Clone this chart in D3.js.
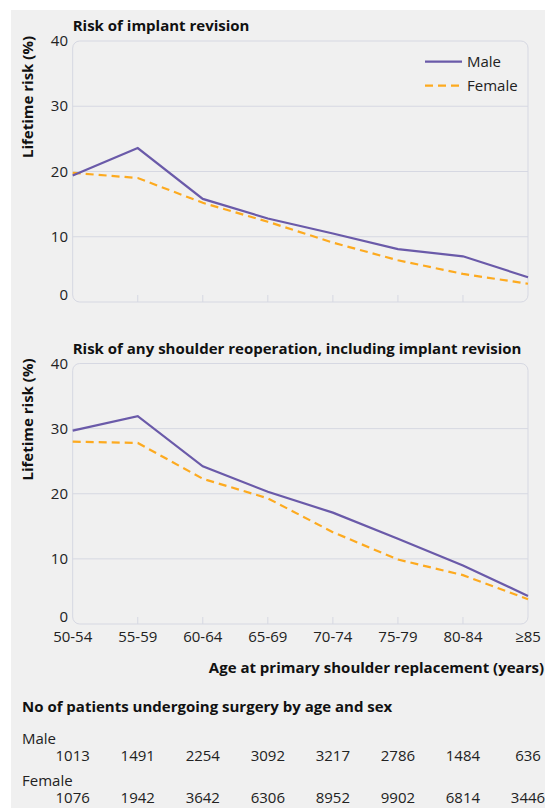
<!DOCTYPE html>
<html>
<head>
<meta charset="utf-8">
<script src="https://cdn.jsdelivr.net/npm/d3@7"></script>
<style>
  body { margin: 0; background: #ffffff; }
  svg { display: block; font-family: "Open Sans", sans-serif; }
  .grid line { stroke: #d6d8e2; stroke-width: 1; }
  .tick-label { font-size: 15px; fill: #222; }
  .bold { font-weight: bold; fill: #111; }
</style>
</head>
<body>
<div id="chart"></div>
<script>
var ageGroups = ["50-54", "55-59", "60-64", "65-69", "70-74", "75-79", "80-84", "\u226585"];

// Lifetime risk of implant revision (%)
var revisionMale   = [19.4, 23.6, 15.8, 12.8, 10.5, 8.1, 7.0, 3.8];
var revisionFemale = [19.8, 19.0, 15.2, 12.3, 9.1, 6.4, 4.3, 2.8];

// Lifetime risk of any shoulder reoperation (%)
var reopMale   = [29.7, 31.9, 24.2, 20.3, 17.1, 13.1, 9.0, 4.3];
var reopFemale = [28.0, 27.8, 22.3, 19.3, 14.1, 9.9, 7.5, 3.8];

var patientsMale   = [1013, 1491, 2254, 3092, 3217, 2786, 1484, 636];
var patientsFemale = [1076, 1942, 3642, 6306, 8952, 9902, 6814, 3446];

var yTicks = [0, 10, 20, 30, 40];

var MALE_COLOR = "#6a5aa9";
var FEMALE_COLOR = "#fdaa1f";

var width = 545, height = 808;

var svg = d3.select("#chart").append("svg")
    .attr("width", width)
    .attr("height", height);

// grey panel behind everything
svg.append("rect")
    .attr("x", 11).attr("y", 10)
    .attr("width", width - 11).attr("height", height - 10)
    .attr("fill", "#f0f0f0");

var x = d3.scalePoint()
    .domain(ageGroups)
    .range([72.7, 528]);

var drawPanel = function(opts) {
    var y = d3.scaleLinear()
        .domain([0, 40])
        .range([opts.bottom, opts.top]);

    var g = svg.append("g");

    // plot frame
    g.append("rect")
        .attr("x", x.range()[0]).attr("y", opts.top)
        .attr("width", x.range()[1] - x.range()[0])
        .attr("height", opts.bottom - opts.top)
        .attr("rx", 7)
        .attr("fill", "none")
        .attr("stroke", "#d6d8e2");

    // horizontal grid lines
    g.append("g").attr("class", "grid")
        .selectAll("line")
        .data(yTicks.filter(function(d) { return d > 0 && d < 40; }))
        .join("line")
        .attr("x1", x.range()[0]).attr("x2", x.range()[1])
        .attr("y1", function(d) { return y(d); })
        .attr("y2", function(d) { return y(d); });

    // small ticks on the bottom edge
    g.append("g").attr("class", "grid")
        .selectAll("line")
        .data(ageGroups.slice(1, -1))
        .join("line")
        .attr("x1", function(d) { return x(d); })
        .attr("x2", function(d) { return x(d); })
        .attr("y1", opts.bottom)
        .attr("y2", opts.bottom - 7);

    // y tick labels (the 0 sits a bit higher)
    g.selectAll("text.ylab")
        .data(yTicks)
        .join("text")
        .attr("class", "tick-label")
        .attr("x", 68)
        .attr("y", function(d) { return y(d) + (d === 0 ? -2 : 5); })
        .attr("text-anchor", "end")
        .text(function(d) { return d; });

    // title
    g.append("text")
        .attr("class", "bold")
        .attr("x", x.range()[0])
        .attr("y", opts.top - 10)
        .style("font-size", "15px")
        .text(opts.title);

    // y axis title
    g.append("text")
        .attr("class", "bold")
        .attr("transform", "translate(33," + (opts.top - 5) + ") rotate(-90)")
        .attr("text-anchor", "end")
        .style("font-size", "15px")
        .text("Lifetime risk (%)");

    var line = d3.line()
        .x(function(d, i) { return x(ageGroups[i]); })
        .y(function(d) { return y(d); });

    g.append("path")
        .datum(opts.female)
        .attr("d", line)
        .attr("fill", "none")
        .attr("stroke", FEMALE_COLOR)
        .attr("stroke-width", 2.2)
        .attr("stroke-dasharray", "8,5");

    g.append("path")
        .datum(opts.male)
        .attr("d", line)
        .attr("fill", "none")
        .attr("stroke", MALE_COLOR)
        .attr("stroke-width", 2.2);

    return g;
};

var top = drawPanel({
    top: 41, bottom: 302,
    title: "Risk of implant revision",
    male: revisionMale, female: revisionFemale
});

var bottom = drawPanel({
    top: 363.5, bottom: 624,
    title: "Risk of any shoulder reoperation, including implant revision",
    male: reopMale, female: reopFemale
});

// legend
var legend = svg.append("g").selectAll("g")
    .data([{ name: "Male", color: MALE_COLOR, dash: null },
           { name: "Female", color: FEMALE_COLOR, dash: "8,5" }])
    .join("g")
    .attr("transform", function(d, i) { return "translate(425," + (61.7 + i * 24) + ")"; });

legend.append("line")
    .attr("x1", 0).attr("x2", 37)
    .attr("stroke", function(d) { return d.color; })
    .attr("stroke-width", 2.2)
    .attr("stroke-dasharray", function(d) { return d.dash; });

legend.append("text")
    .attr("class", "tick-label")
    .attr("x", 42).attr("y", 5)
    .text(function(d) { return d.name; });

// x axis labels under the bottom panel
svg.append("g").selectAll("text")
    .data(ageGroups)
    .join("text")
    .attr("class", "tick-label")
    .attr("x", function(d) { return x(d); })
    .attr("y", 642)
    .attr("text-anchor", "middle")
    .text(function(d) { return d; });

svg.append("text")
    .attr("class", "bold")
    .attr("x", 544).attr("y", 673)
    .attr("text-anchor", "end")
    .style("font-size", "15px")
    .text("Age at primary shoulder replacement (years)");

// patient numbers table
svg.append("text")
    .attr("class", "bold")
    .attr("x", 22).attr("y", 712)
    .style("font-size", "15px")
    .text("No of patients undergoing surgery by age and sex");

var rows = [
    { label: "Male", values: patientsMale, y: 744 },
    { label: "Female", values: patientsFemale, y: 786 }
];

rows.forEach(function(r) {
    svg.append("text")
        .attr("class", "tick-label")
        .attr("x", 22).attr("y", r.y)
        .text(r.label);

    svg.append("g").selectAll("text")
        .data(r.values)
        .join("text")
        .attr("class", "tick-label")
        .attr("x", function(d, i) { return x(ageGroups[i]); })
        .attr("y", r.y + 17)
        .attr("text-anchor", "middle")
        .text(function(d) { return d; });
});
</script>
</body>
</html>
